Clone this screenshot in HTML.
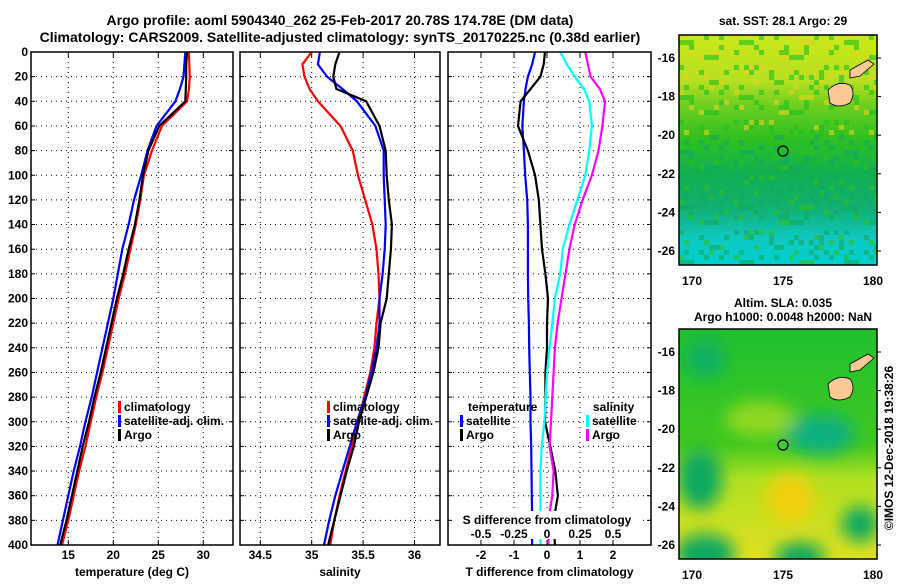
<!DOCTYPE html>
<html><head><meta charset="utf-8"><style>
body{margin:0;background:#fff;}
svg text{font-family:"Liberation Sans",Arial,sans-serif;font-weight:bold;fill:#000;}
</style></head><body>
<svg id="c" width="900" height="580" viewBox="0 0 900 580" xmlns="http://www.w3.org/2000/svg">
<defs>
<linearGradient id="sst" x1="0" y1="0" x2="0" y2="1">
<stop offset="0" stop-color="#c8e81a"/><stop offset="0.2" stop-color="#b8e020"/><stop offset="0.3" stop-color="#70d020"/>
<stop offset="0.45" stop-color="#30c020"/><stop offset="0.6" stop-color="#10b050"/><stop offset="0.75" stop-color="#10b070"/>
<stop offset="0.88" stop-color="#10c8c0"/><stop offset="1" stop-color="#00d0d0"/></linearGradient>
<linearGradient id="sla" x1="0" y1="0" x2="0" y2="1">
<stop offset="0" stop-color="#20c030"/><stop offset="0.5" stop-color="#40c820"/><stop offset="0.65" stop-color="#b0e020"/><stop offset="1" stop-color="#e0e020"/></linearGradient>
<filter id="bl"><feGaussianBlur stdDeviation="8"/></filter>
<clipPath id="clip1"><rect x="679" y="35" width="198" height="230"/></clipPath>
<clipPath id="clip2"><rect x="679" y="329" width="198" height="230"/></clipPath>
</defs>
<text x="340" y="25" font-size="14" text-anchor="middle">Argo profile: aoml 5904340_262 25-Feb-2017 20.78S 174.78E (DM data)</text>
<text x="340" y="42" font-size="14" text-anchor="middle">Climatology: CARS2009. Satellite-adjusted climatology: synTS_20170225.nc (0.38d earlier)</text>
<g id="plots"></g>
<g id="maps"></g>
<text transform="translate(893,448) rotate(-90)" font-size="12" font-weight="normal" text-anchor="middle">©IMOS 12-Dec-2018 19:38:26</text>
</svg>
<script>
const depths=[0,10,20,30,40,60,80,100,120,140,160,180,200,220,240,260,280,300,320,340,360,380,400];
const tempArgo=[28.2,28.1,28.1,28.05,28.0,25.1,23.9,23.3,22.9,22.4,21.7,21.1,20.4,19.8,19.2,18.6,17.9,17.3,16.6,16.0,15.4,14.8,14.1];
const tempClim=[28.4,28.45,28.5,28.4,28.2,25.4,24.3,23.4,23.0,22.5,21.9,21.3,20.6,20.0,19.4,18.8,18.1,17.5,16.9,16.2,15.6,15.0,14.3];
const tempSat=[28.0,27.9,27.8,27.4,26.9,24.8,23.8,23.1,22.3,21.7,21.0,20.5,20.0,19.4,18.8,18.2,17.6,16.9,16.3,15.6,15.0,14.4,13.8];
const salArgo=[35.27,35.23,35.21,35.24,35.53,35.66,35.72,35.73,35.75,35.78,35.77,35.75,35.73,35.67,35.65,35.6,35.53,35.46,35.41,35.34,35.28,35.22,35.16];
const salClim=[35.0,34.91,34.93,34.98,35.06,35.28,35.4,35.45,35.52,35.59,35.63,35.65,35.66,35.63,35.61,35.57,35.51,35.45,35.39,35.33,35.27,35.22,35.18];
const salSat=[35.08,35.06,35.15,35.3,35.44,35.62,35.7,35.7,35.71,35.72,35.71,35.69,35.66,35.66,35.63,35.58,35.52,35.44,35.37,35.3,35.23,35.17,35.12];
const tdiffSat=[-0.36,-0.45,-0.58,-0.65,-0.7,-0.75,-0.7,-0.66,-0.6,-0.58,-0.58,-0.58,-0.57,-0.55,-0.54,-0.52,-0.5,-0.5,-0.48,-0.47,-0.46,-0.45,-0.45];
const tdiffArgo=[-0.06,-0.1,-0.2,-0.5,-0.8,-0.88,-0.58,-0.36,-0.25,-0.2,-0.15,-0.05,0.03,0.0,0.0,-0.05,-0.05,-0.06,0.1,0.25,0.33,0.2,0.24];
const sdiffSat=[0.1,0.15,0.21,0.28,0.32,0.34,0.32,0.29,0.23,0.17,0.12,0.1,0.06,0.04,0.02,0.0,-0.01,-0.02,-0.04,-0.05,-0.05,-0.05,-0.05];
const sdiffArgo=[0.29,0.31,0.33,0.4,0.44,0.42,0.39,0.34,0.27,0.21,0.17,0.14,0.11,0.08,0.06,0.05,0.04,0.03,0.02,0.05,0.04,0.01,0.01];
const tTicks=[15,20,25,30], sTicks=[34.5,35,35.5,36], dTicks=[-2,-1,0,1,2], sdTicks=[-0.5,-0.25,0,0.25,0.5];
const sdTickLabels=["-0.5","-0.25","0","0.25","0.5"];
const depthTicks=[0,20,40,60,80,100,120,140,160,180,200,220,240,260,280,300,320,340,360,380,400];

const NS="http://www.w3.org/2000/svg";
function mk(p,tag,at,txt){const e=document.createElementNS(NS,tag);for(const k in at)e.setAttribute(k,at[k]);if(txt!==undefined)e.textContent=txt;p.appendChild(e);return e;}
const Y=d=>52+d*(545-52)/400;
const plots=document.getElementById('plots');
const panels=[
 {x0:31,x1:233,X:v=>68.3+(v-15)*9.0,ticks:tTicks,lab:tTicks.map(String),name:'temperature',xl:'temperature (deg C)'},
 {x0:240,x1:440,X:v=>311.7+(v-35)*102.8,ticks:sTicks,lab:sTicks.map(String),name:'salinity',xl:'salinity'},
 {x0:448,x1:651,X:v=>547+v*33,ticks:dTicks,lab:dTicks.map(String),name:'difference',xl:'T difference from climatology'}];
panels.forEach((p,i)=>{
 const g=mk(plots,'g',{});
 
 
 depthTicks.forEach(d=>{mk(g,'line',{x1:p.x0,x2:p.x1,y1:Y(d),y2:Y(d),stroke:'#000','stroke-dasharray':'1 4','stroke-width':1});
  mk(g,'line',{x1:p.x0,x2:p.x0+4,y1:Y(d),y2:Y(d),stroke:'#000'});mk(g,'line',{x1:p.x1-4,x2:p.x1,y1:Y(d),y2:Y(d),stroke:'#000'});
  if(i===0){const t=mk(g,'text',{x:28,y:Y(d)+4,'font-size':12,'text-anchor':'end'},String(d));}});
 p.ticks.forEach((v,j)=>{const x=p.X(v);mk(g,'line',{x1:x,x2:x,y1:52,y2:545,stroke:'#000','stroke-dasharray':'1 4'});
  mk(g,'line',{x1:x,x2:x,y1:545,y2:540,stroke:'#000'});mk(g,'line',{x1:x,x2:x,y1:52,y2:57,stroke:'#000'});
  const t=mk(g,'text',{x:x,y:559,'font-size':12,'text-anchor':'middle','font-weight':'normal'},p.lab[j]);});
 const xl=mk(g,'text',{x:(p.x0+p.x1)/2,y:576,'font-size':12,'text-anchor':'middle'},p.xl);
 
 
 p.g=g;
});
function line(g,X,vals,col,name){const pts=vals.map((v,k)=>X(v).toFixed(1)+','+Y(depths[k]).toFixed(1)).join(' ');
 const e=mk(g,'polyline',{points:pts,fill:'none',stroke:col,'stroke-width':2.2});
 
 }
const P=panels;
line(P[0].g,P[0].X,tempClim,'#f00','temp-climatology-line');
line(P[0].g,P[0].X,tempSat,'#00f','temp-satellite-line');
line(P[0].g,P[0].X,tempArgo,'#000','temp-argo-line');
line(P[1].g,P[1].X,salClim,'#f00','sal-climatology-line');
line(P[1].g,P[1].X,salSat,'#00f','sal-satellite-line');
line(P[1].g,P[1].X,salArgo,'#000','sal-argo-line');
const SX=v=>547+v*132;
line(P[2].g,P[2].X,tdiffSat,'#00f','tdiff-satellite-line');
line(P[2].g,P[2].X,tdiffArgo,'#000','tdiff-argo-line');
line(P[2].g,SX,sdiffSat,'#0ff','sdiff-satellite-line');
line(P[2].g,SX,sdiffArgo,'#f0f','sdiff-argo-line');
const g3=P[2].g;
mk(g3,'rect',{x:452,y:511,width:190,height:28,fill:'#fff'});
mk(g3,'text',{x:547,y:524,'font-size':12,'text-anchor':'middle'},'S difference from climatology');
sdTicks.forEach((v,j)=>mk(g3,'text',{x:SX(v),y:538,'font-size':12,'text-anchor':'middle','font-weight':'normal'},sdTickLabels[j]));
panels.forEach(p=>mk(p.g,'rect',{x:p.x0,y:52,width:p.x1-p.x0,height:493,fill:'none',stroke:'#000','stroke-width':1.5}));
function leg(g,x,y,col,txt,name){const l=mk(g,'g',{});
 mk(l,'rect',{x:x,y:y-10,width:3,height:12,fill:col});mk(l,'text',{x:x+6,y:y,'font-size':12},txt);}
[[P[0].g,118],[P[1].g,327]].forEach(([g,x])=>{leg(g,x,411,'#f00','climatology','legend-climatology');leg(g,x,425,'#00f','satellite-adj. clim.','legend-satellite');leg(g,x,439,'#000','Argo','legend-argo');});
mk(g3,'text',{x:468,y:411,'font-size':12},'temperature');
leg(g3,460,425,'#00f','satellite','legend-t-satellite');leg(g3,460,439,'#000','Argo','legend-t-argo');
mk(g3,'text',{x:593,y:411,'font-size':12},'salinity');
leg(g3,586,425,'#0ff','satellite','legend-s-satellite');leg(g3,586,439,'#f0f','Argo','legend-s-argo');
const maps=document.getElementById('maps');
function map(y0,grad,clip,title,title2,name){
 const g=mk(maps,'g',{});
 const c=mk(g,'g',{'clip-path':'url(#'+clip+')'});
 mk(c,'rect',{x:679,y:y0,width:198,height:230,fill:'url(#'+grad+')'});
 if(grad==='sla'){const bg=mk(c,'g',{filter:'url(#bl)'});
  [[700,y0+150,22,30,'#10a860'],[705,y0+225,30,20,'#10a860'],[800,y0+228,25,15,'#10a860'],[860,y0+195,18,18,'#10a860'],[820,y0+105,35,20,'#10b080'],[705,y0+30,20,20,'#10b060'],[760,y0+90,35,18,'#90d820'],[790,y0+170,25,25,'#f0d010']].forEach(a=>mk(bg,'ellipse',{cx:a[0],cy:a[1],rx:a[2],ry:a[3],fill:a[4]}));}
 else{for(let i=0;i<40;i++)for(let j=0;j<46;j++){const h=(i*7+j*13+i*j*3+(i%3)*j)%11;if(h<3)mk(c,'rect',{x:679+i*5,y:y0+j*5,width:5,height:5,fill:j<20?(h?'#20c020':'#e8d020'):(h?'#10a860':'#30c020'),opacity:0.6});}}
 mk(c,'path',{d:`M828 ${y0+55} q10 -10 22 -5 q6 8 0 18 q-12 6 -20 0 z M850 ${y0+35} l18 -10 l6 4 l-14 12 l-10 2 z`,fill:'#fbc896',stroke:'#000','stroke-width':0.8});
 mk(c,'circle',{cx:783,cy:y0+116,r:5,fill:'none',stroke:'#000','stroke-width':1.2});
 mk(g,'rect',{x:679,y:y0,width:198,height:230,fill:'none',stroke:'#000','stroke-width':1.5});
 [16,18,20,22,24,26].forEach(l=>{const y=y0+23+(l-16)*19.3;mk(g,'text',{x:675,y:y+4,'font-size':12,'text-anchor':'end','font-weight':'normal'},'-'+l);mk(g,'line',{x1:877,x2:881,y1:y,y2:y,stroke:'#000'});});
 [[170,692],[175,783],[180,873]].forEach(a=>mk(g,'text',{x:a[1],y:y0+250,'font-size':12,'text-anchor':'middle','font-weight':'normal'},String(a[0])));
 mk(g,'text',{x:783,y:y0-(title2?22:10),'font-size':12,'text-anchor':'middle'},title);
 if(title2)mk(g,'text',{x:783,y:y0-8,'font-size':12,'text-anchor':'middle'},title2);
}
map(35,'sst','clip1','sat. SST: 28.1 Argo: 29',null,'sst-map');
map(329,'sla','clip2','Altim. SLA: 0.035','Argo h1000: 0.0048 h2000: NaN','sla-map');
</script>
</body></html>
